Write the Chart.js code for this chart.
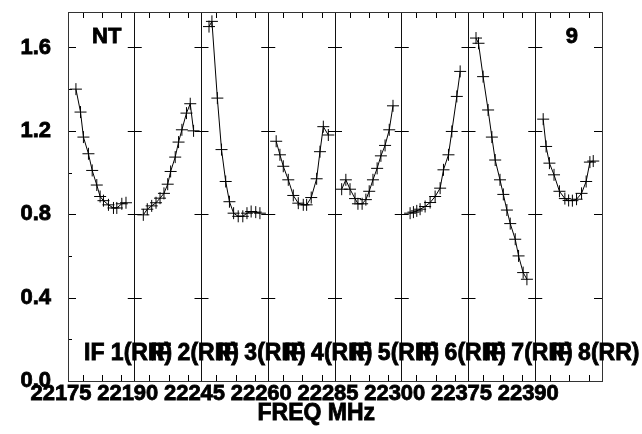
<!DOCTYPE html>
<html>
<head>
<meta charset="utf-8">
<script src="https://cdn.jsdelivr.net/npm/chart.js@4/dist/chart.umd.min.js"></script>
<style>
  body { margin: 0; background: #fff; }
  canvas { display: block; }
</style>
</head>
<body>
<canvas id="possm" width="642" height="434"></canvas>
<script>
// Bandpass amplitude per IF, channel position (1/16 of a panel) and amplitude
const CH_1  = [1.9, 3.0, 3.7, 4.9, 5.8, 6.9, 7.7, 8.5, 9.7, 10.9, 11.7, 12.9, 13.9];
const AMP_1 = [1.40, 1.29, 1.17, 1.09, 1.01, 0.94, 0.885, 0.865, 0.845, 0.83, 0.83, 0.85, 0.855];
const CH_2  = [2.05, 3.0, 4.06, 5.1, 6.06, 7.0, 7.9, 8.6, 9.7, 10.5, 11.3, 12.4, 13.3, 14.1];
const AMP_2 = [0.797, 0.824, 0.84, 0.855, 0.877, 0.9, 0.944, 1.005, 1.074, 1.146, 1.205, 1.285, 1.33, 1.20];
const CH_3  = [1.8, 2.5, 3.8, 4.8, 5.8, 6.7, 7.7, 8.8, 9.9, 10.9, 11.9, 13.0, 14.0];
const AMP_3 = [1.70, 1.725, 1.357, 1.11, 0.957, 0.86, 0.805, 0.79, 0.79, 0.805, 0.813, 0.81, 0.805];
const CH_4  = [1.9, 2.8, 3.6, 4.8, 6.0, 7.2, 8.4, 9.2, 10.3, 11.6, 12.4, 13.2, 14.4];
const AMP_4 = [1.15, 1.085, 1.03, 0.965, 0.89, 0.853, 0.845, 0.845, 0.88, 0.97, 1.10, 1.22, 1.18];
const CH_5  = [1.6, 2.6, 3.6, 4.8, 5.5, 6.5, 7.4, 8.2, 9.1, 10.1, 11.0, 12.0, 13.0, 13.9];
const AMP_5 = [0.92, 0.965, 0.92, 0.875, 0.85, 0.85, 0.87, 0.91, 0.965, 1.02, 1.08, 1.13, 1.205, 1.32];
const CH_6  = [2.0, 2.8, 3.6, 4.4, 5.6, 6.8, 8.0, 9.2, 10.0, 11.2, 12.0, 13.2, 14.0];
const AMP_6 = [0.805, 0.81, 0.816, 0.824, 0.837, 0.856, 0.885, 0.925, 1.013, 1.085, 1.197, 1.365, 1.485];
const CH_7  = [1.8, 2.4, 3.5, 4.7, 5.6, 6.4, 7.55, 8.35, 9.2, 10.0, 11.2, 12.0, 13.1, 14.0];
const AMP_7 = [1.645, 1.62, 1.46, 1.30, 1.17, 1.06, 0.965, 0.895, 0.82, 0.755, 0.68, 0.60, 0.52, 0.488];
const CH_8  = [1.9, 2.6, 3.4, 4.5, 5.8, 7.1, 8.0, 8.9, 9.9, 11.1, 12.2, 13.1, 13.9];
const AMP_8 = [1.256, 1.125, 1.045, 0.989, 0.91, 0.875, 0.866, 0.865, 0.872, 0.9, 0.957, 1.05, 1.055];

const IF_LABELS = ['IF 1(RR)', 'IF 2(RR)', 'IF 3(RR)', 'IF 4(RR)', 'IF 5(RR)', 'IF 6(RR)', 'IF 7(RR)', 'IF 8(RR)'];
const FREQ_TICKS = ['22175', '22190', '22245', '22260', '22285', '22300', '22375', '22390'];
const Y_MAJOR = [0.4, 0.8, 1.2, 1.6];
const Y_MINOR = [0.2, 0.6, 1.0, 1.4];
const X_MINOR = [0.22, 0.51, 0.80];   // inner frequency ticks, fraction of a panel

const CHANS = [CH_1, CH_2, CH_3, CH_4, CH_5, CH_6, CH_7, CH_8];
const AMPS = [AMP_1, AMP_2, AMP_3, AMP_4, AMP_5, AMP_6, AMP_7, AMP_8];
const NCHAN = 16;

const FONT = 'Liberation Sans';

const datasets = CHANS.map((ch, p) => ({
    label: IF_LABELS[p],
    data: ch.map((c, i) => ({ x: p + c / NCHAN, y: AMPS[p][i] })),
    showLine: true,
    borderColor: '#000',
    borderWidth: 1,
    tension: 0,
    pointStyle: 'cross',
    pointRadius: 6,
    pointBorderWidth: 1,
    pointBorderColor: '#000',
    pointBackgroundColor: '#000'
}));

function boldText(ctx, t, x, y) {
    ctx.fillText(t, x, y);
    ctx.strokeText(t, x, y);
}

// frame, tick marks crossing the panel borders, captions and axis title
const possmDecor = {
    id: 'possmDecor',
    afterDraw(chart) {
        const ctx = chart.ctx;
        const xs = chart.scales.x, ys = chart.scales.y;
        const a = chart.chartArea;
        ctx.save();
        ctx.strokeStyle = '#000';
        ctx.lineWidth = 1;
        ctx.beginPath();
        Y_MAJOR.forEach(v => {
            const y = Math.round(ys.getPixelForValue(v)) + 0.5;
            ctx.moveTo(a.left, y); ctx.lineTo(a.left + 8, y);
            for (let p = 1; p < 8; p++) {
                const x = xs.getPixelForValue(p);
                ctx.moveTo(x - 7, y); ctx.lineTo(x + 7, y);
            }
            ctx.moveTo(a.right - 8, y); ctx.lineTo(a.right, y);
        });
        Y_MINOR.forEach(v => {
            const y = Math.round(ys.getPixelForValue(v)) + 0.5;
            ctx.moveTo(a.left, y); ctx.lineTo(a.left + 4, y);
        });
        for (let p = 0; p < 8; p++) {
            X_MINOR.forEach(f => {
                const x = Math.round(xs.getPixelForValue(p + f)) + 0.5;
                ctx.moveTo(x, a.top); ctx.lineTo(x, a.top + 6);
                ctx.moveTo(x, a.bottom); ctx.lineTo(x, a.bottom - 6);
            });
        }
        ctx.stroke();
        ctx.strokeStyle = '#333';
        ctx.strokeRect(a.left + 0.5, a.top + 0.5, a.right - a.left, a.bottom - a.top);

        ctx.fillStyle = '#000';
        ctx.strokeStyle = '#000';
        ctx.lineWidth = 0.8;
        ctx.font = 'bold 23px "' + FONT + '"';
        ctx.textBaseline = 'alphabetic';
        ctx.textAlign = 'left';
        IF_LABELS.forEach((t, p) => {
            boldText(ctx, t, xs.getPixelForValue(p + 0.24), ys.getPixelForValue(0.1));
        });
        ctx.textAlign = 'center';
        ctx.textBaseline = 'middle';
        ctx.font = 'bold 22px "' + FONT + '"';
        boldText(ctx, 'NT', xs.getPixelForValue(0.58), ys.getPixelForValue(1.65));
        boldText(ctx, '9', xs.getPixelForValue(7.55), ys.getPixelForValue(1.65));
        // axis title sits left of centre in the original
        ctx.font = 'bold 23px "' + FONT + '"';
        boldText(ctx, 'FREQ MHz', xs.getPixelForValue(3.72), chart.height - 20);
        ctx.restore();
    }
};

new Chart(document.getElementById('possm'), {
    type: 'scatter',
    data: { datasets: datasets },
    plugins: [possmDecor],
    options: {
        responsive: false,
        animation: false,
        events: [],
        layout: { padding: { top: 12, right: 40, left: 0, bottom: 0 } },
        plugins: { legend: { display: false }, tooltip: { enabled: false } },
        scales: {
            x: {
                type: 'linear',
                min: 0,
                max: 8,
                afterFit: s => { s.height = 53; s.paddingLeft = 0; s.paddingRight = 0; },
                grid: { color: '#111', lineWidth: 1, drawTicks: false },
                border: { display: false },
                ticks: {
                    stepSize: 1,
                    autoSkip: false,
                    maxRotation: 0,
                    padding: 0,
                    labelOffset: -7,
                    color: '#000',
                    textStrokeColor: '#000',
                    textStrokeWidth: 0.8,
                    font: { family: FONT, weight: 'bold', size: 22 },
                    callback: v => FREQ_TICKS[v] || ''
                }
            },
            y: {
                min: 0,
                max: 1.77,
                afterFit: s => { s.width = 68; s.paddingTop = 0; s.paddingBottom = 0; },
                grid: { display: false },
                border: { display: false },
                ticks: {
                    stepSize: 0.4,
                    includeBounds: false,
                    padding: 9,
                    color: '#000',
                    textStrokeColor: '#000',
                    textStrokeWidth: 0.8,
                    font: { family: FONT, weight: 'bold', size: 22 },
                    callback: v => v.toFixed(1)
                }
            }
        }
    }
});
</script>
</body>
</html>
